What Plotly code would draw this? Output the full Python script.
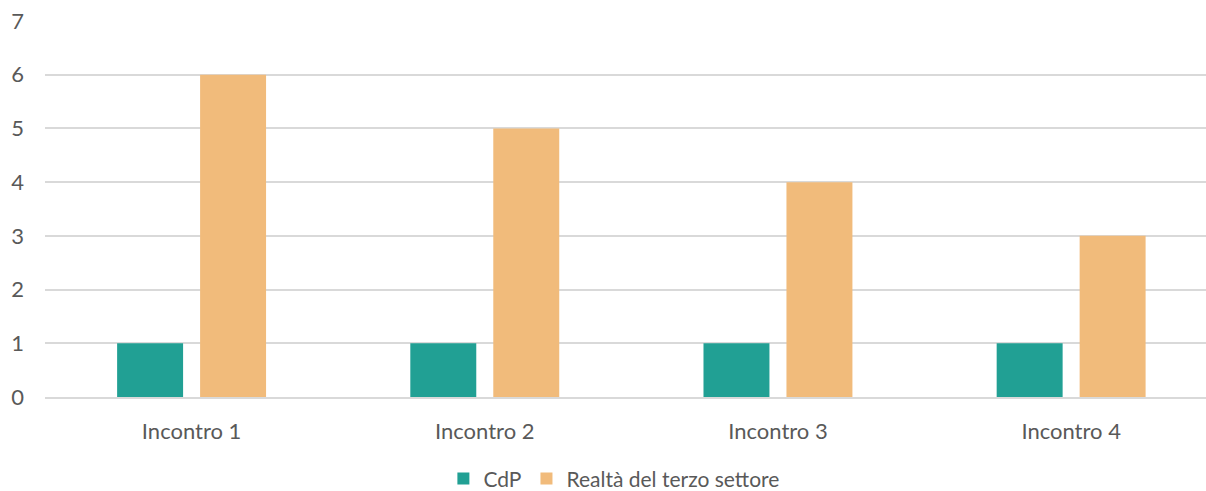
import plotly.graph_objects as go

categories = ["Incontro 1", "Incontro 2", "Incontro 3", "Incontro 4"]
cdp = [1, 1, 1, 1]
realta = [6, 5, 4, 3]
series_names = ["CdP", "Realtà del terzo settore"]

FONT = "Lato"
TXT = "#595959"
FS = 22

fig = go.Figure()
fig.add_trace(go.Bar(x=categories, y=cdp, name=series_names[0],
                     marker=dict(color="#21A094", line=dict(width=0))))
fig.add_trace(go.Bar(x=categories, y=realta, name=series_names[1],
                     marker=dict(color="#F1BB7B", line=dict(width=0))))

fig.update_layout(
    width=1206, height=491,
    margin=dict(l=45, r=0, t=20.5, b=93.5, autoexpand=False),
    paper_bgcolor="white", plot_bgcolor="white",
    barmode="group", bargap=0.434, bargroupgap=0.205,
    font=dict(family=FONT, size=FS, color=TXT),
    showlegend=True,
    legend=dict(orientation="h", x=0.49, xanchor="center", y=-0.218, yanchor="middle",
                font=dict(family=FONT, size=21, color=TXT),
                itemwidth=30, traceorder="normal"),
)
fig.update_xaxes(range=[-0.5, 3.46], showgrid=False, zeroline=False, automargin=False,
                 showline=True, linecolor="#D9D9D9", linewidth=1.5,
                 ticks="", ticklabelstandoff=14,
                 tickfont=dict(family=FONT, size=FS, color=TXT))
fig.update_yaxes(range=[0, 7], dtick=1, showgrid=True, gridcolor="#D9D9D9",
                 gridwidth=1.5, zeroline=False, showline=False, ticks="", automargin=False,
                 ticklabelstandoff=20,
                 tickfont=dict(family=FONT, size=FS, color=TXT))

fig.write_html("out.html", config={"displayModeBar": False},
               post_script="document.body.style.margin='0';document.body.style.overflow='hidden';")
